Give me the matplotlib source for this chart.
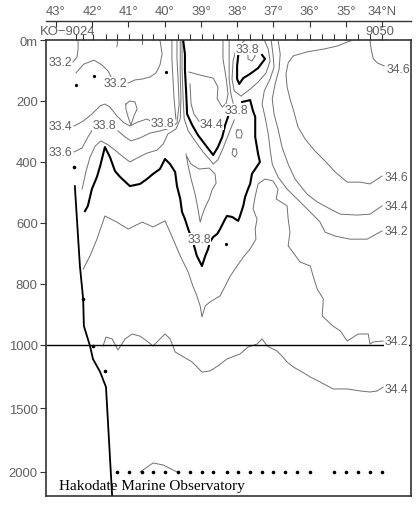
import numpy as np
import matplotlib.pyplot as plt

# latitude scale (upper axis)
lat_ticks = [43, 42, 41, 40, 39, 38, 37, 36, 35, 34]
lat_labels = ['43°', '42°', '41°', '40°', '39°', '38°', '37°', '36°', '35°', '34°N']

# station positions KO-9024 ... 9050
stations = [42.45, 42.25, 41.98, 41.62, 41.32, 40.98, 40.62, 40.32, 39.99, 39.63,
            39.30, 38.97, 38.66, 38.28, 37.97, 37.64, 37.31, 37.01, 36.67, 36.34,
            35.98, 35.65, 35.32, 34.99, 34.66, 34.33, 34.00]
deep_stations = stations[4:21] + stations[22:]   # stations with 2000 m data

depth_ticks = [0, 200, 400, 600, 800, 1000, 1500, 2000]
depth_labels = ['0m', '200', '400', '600', '800', '1000', '1500', '2000']

# bottom / deepest observation on the shelf slope
bottom_line = [(42.48, 479), (42.34, 741), (42.25, 849), (42.23, 938), (42.06, 1008),
               (41.98, 1110), (41.78, 1213), (41.62, 1331), (41.45, 2189)]
last_obs = [(42.50, 416), (42.25, 849), (41.98, 1008), (41.65, 1205)]
spots = [(42.45, 148), (41.95, 118), (39.96, 105), (38.30, 669)]

# salinity contours (lat, depth m)
s332_a = [(42.53, 72), (42.42, 56), (42.39, 30), (42.39, 0)]
s332_b1 = [(42.45, 108), (42.23, 79), (41.95, 66), (41.73, 82), (41.56, 102), (41.48, 121)]
s332_b2 = [(41.01, 141), (40.82, 131), (40.62, 128), (40.40, 121), (40.24, 108), (40.13, 82),
           (40.07, 46), (40.13, 0)]
s334_a = [(42.50, 282), (42.25, 266), (42.01, 243), (41.78, 216), (41.65, 210), (41.51, 220),
          (41.32, 249), (41.15, 269), (40.96, 282), (40.74, 269), (40.49, 259), (40.38, 266)]
s334_b = [(39.69, 259), (39.74, 193), (39.77, 128), (39.80, 62), (39.80, 0)]
s336_a = [(42.50, 367), (42.28, 354), (42.12, 318), (41.98, 292)]
s336_b = [(41.29, 298), (41.09, 318), (40.93, 331), (40.68, 321), (40.40, 305), (40.13, 298),
          (39.85, 289), (39.66, 272), (39.60, 210), (39.63, 128), (39.66, 62), (39.66, 0)]
s338_v = [(42.28, 489), (42.17, 430), (42.06, 384), (41.92, 348), (41.76, 331), (41.56, 344),
          (41.37, 361), (41.18, 380), (40.96, 400), (40.76, 387), (40.49, 371), (40.21, 361),
          (40.04, 341), (39.91, 308), (39.69, 292), (39.57, 259), (39.55, 193), (39.57, 111),
          (39.57, 46), (39.57, 0)]
teardrop = [(41.07, 210), (40.96, 200), (40.82, 203), (40.76, 226), (40.85, 249), (40.93, 279),
            (41.01, 252), (41.07, 226), (41.07, 210)]
front_p1 = [(39.52, 0), (39.52, 95), (39.49, 193), (39.46, 259), (39.35, 298), (39.16, 331),
            (38.94, 367), (38.75, 393), (38.66, 407), (38.53, 393), (38.41, 361), (38.30, 328),
            (38.19, 295), (38.08, 262)]
tongue = [(39.41, 374), (39.35, 413), (39.27, 456), (39.16, 505), (39.08, 554), (39.02, 597),
          (38.97, 577), (38.88, 548), (38.77, 521), (38.69, 492), (38.58, 469), (38.61, 439),
          (38.77, 420), (39.05, 423), (39.27, 407), (39.38, 384)]
inner_1 = [(39.30, 144), (39.27, 210), (39.19, 243), (39.05, 266)]
inner_2 = [(39.33, 105), (39.02, 115), (38.66, 125), (38.53, 154), (38.55, 193), (38.41, 220),
           (38.30, 207), (38.25, 177), (38.30, 128), (38.39, 62), (38.39, 0)]
inner_3 = [(38.22, 0), (38.22, 62), (38.22, 128), (38.17, 177), (38.11, 207)]
ring_38 = [(37.78, 0), (38.03, 30), (38.11, 69), (38.14, 128), (38.08, 167), (37.89, 184),
           (37.64, 161), (37.42, 138), (37.20, 108), (37.09, 69), (37.14, 30), (37.25, 0)]
eddy_a = [(38.00, 295), (37.89, 295), (37.86, 308), (37.89, 321), (38.00, 321), (38.03, 308),
          (38.00, 295)]
eddy_b = [(38.11, 357), (38.03, 357), (38.00, 371), (38.06, 384), (38.14, 374), (38.11, 357)]
eddy_c = [(37.70, 43), (37.59, 36), (37.50, 52), (37.59, 69), (37.70, 62), (37.70, 43)]
s342_up = [(37.06, 0), (37.01, 46), (36.98, 89), (37.09, 128), (37.25, 167), (37.31, 210),
           (37.23, 252), (37.14, 308), (37.09, 357), (37.03, 407), (36.87, 449), (36.62, 489),
           (36.26, 531), (35.98, 564), (35.71, 597), (35.57, 630), (35.29, 643), (34.88, 653),
           (34.41, 653), (34.00, 626)]
s344_up = [(36.87, 0), (36.81, 46), (36.84, 95), (36.95, 144), (37.03, 193), (36.98, 243),
           (36.87, 292), (36.76, 351), (36.59, 407), (36.40, 456), (36.07, 505), (35.79, 531),
           (35.43, 554), (35.15, 571), (34.69, 574), (34.33, 571), (34.00, 544)]
s346_main = [(34.80, 0), (34.96, 7), (35.24, 20), (35.62, 30), (36.07, 39), (36.45, 52),
             (36.59, 75), (36.65, 111), (36.62, 154), (36.54, 193), (36.43, 236), (36.32, 285),
             (36.12, 325), (35.85, 364), (35.57, 397), (35.29, 433), (34.96, 466), (34.60, 466),
             (34.33, 472), (34.00, 446)]
s346_top = [(34.33, 0), (34.30, 30), (34.24, 62), (34.13, 75), (33.94, 85)]
s342_deep = [(42.25, 751), (42.06, 708), (41.87, 653), (41.65, 577), (41.32, 597), (41.01, 620),
             (40.62, 597), (40.32, 613), (39.99, 593), (39.85, 630), (39.57, 708), (39.35, 761),
             (39.22, 807), (39.11, 839), (39.02, 872), (38.97, 908), (38.88, 872), (38.75, 859),
             (38.47, 839), (38.33, 807), (38.19, 774), (38.00, 741), (37.83, 712), (37.64, 685),
             (37.48, 653), (37.50, 620), (37.45, 587), (37.56, 554), (37.50, 512), (37.42, 472),
             (37.23, 456), (37.01, 462), (36.87, 489), (36.92, 521), (36.62, 544), (36.59, 587),
             (36.54, 630), (36.59, 675), (36.26, 728), (35.98, 741), (35.90, 774), (35.79, 816),
             (35.62, 849), (35.65, 905), (35.35, 938), (35.15, 954), (34.96, 987), (34.66, 964),
             (34.38, 964), (34.33, 997), (34.24, 990), (33.97, 987)]
s344_deep = [(41.70, 1008), (41.62, 974), (41.45, 980), (41.29, 1039), (41.09, 980), (40.90, 964),
             (40.68, 971), (40.49, 987), (40.32, 1008), (40.13, 980), (39.99, 964), (39.85, 980),
             (39.71, 1055), (39.52, 1087), (39.24, 1134), (38.97, 1213), (38.75, 1205),
             (38.53, 1165), (38.28, 1110), (37.92, 1071), (37.70, 1016), (37.45, 997),
             (37.31, 980), (37.17, 1008), (36.90, 1047), (36.76, 1087), (36.62, 1134),
             (36.45, 1173), (36.20, 1213), (35.98, 1252), (35.71, 1291), (35.35, 1346),
             (34.96, 1346), (34.60, 1362), (34.33, 1370), (34.13, 1362), (33.97, 1331)]
s346_bump = [(40.68, 2000), (40.32, 1929), (40.04, 1945), (39.66, 2000)]
surf_bits = [[(41.32, 0), (41.30, 10), (41.32, 22)], [(40.62, 0), (40.62, 14)]]

# thick isohaline
thick_main = [(42.20, 561), (42.12, 544), (42.01, 489), (41.87, 449), (41.78, 413), (41.65, 351),
              (41.51, 384), (41.37, 430), (41.23, 449), (40.96, 479), (40.68, 472), (40.49, 456),
              (40.32, 439), (40.13, 423), (39.99, 390), (39.85, 407), (39.71, 433), (39.66, 479),
              (39.57, 521), (39.52, 564), (39.44, 587), (39.35, 620), (39.22, 662), (39.11, 708),
              (38.97, 741), (38.88, 708), (38.80, 685), (38.75, 662), (38.66, 646), (38.55, 636),
              (38.47, 620), (38.33, 587), (38.28, 577), (38.14, 580), (37.97, 593), (37.92, 577),
              (37.83, 544), (37.78, 515), (37.70, 489), (37.64, 472), (37.59, 439), (37.50, 423),
              (37.37, 400), (37.42, 374), (37.50, 318), (37.50, 252), (37.56, 233), (37.64, 197),
              (37.86, 203)]
thick_tsugaru = [(39.49, 0), (39.44, 46), (39.44, 98), (39.41, 164), (39.38, 243), (39.24, 279),
                 (39.08, 312), (38.83, 351), (38.66, 377), (38.53, 351), (38.41, 318), (38.33, 279),
                 (38.25, 252)]
thick_38 = [(37.97, 52), (38.00, 85), (38.00, 128), (37.94, 144), (37.83, 125), (37.64, 111),
            (37.42, 92), (37.23, 62), (37.31, 49)]

# contour labels
label_text = ['33.2', '33.2', '33.4', '33.6', '33.8', '33.8', '33.8', '33.8', '34.4', '33.8',
              '34.6', '34.6', '34.4', '34.2', '34.2', '34.4']
label_lat = [42.89, 41.36, 42.89, 42.89, 41.67, 40.06, 37.72, 38.01, 38.70, 39.04,
             33.56, 33.60, 33.60, 33.60, 33.60, 33.60]
label_depth = [72, 141, 282, 367, 279, 272, 30, 230, 275, 653,
               95, 449, 544, 626, 987, 1346]

thin = [s332_a, s332_b1, s332_b2, s334_a, s334_b, s336_a, s336_b, s338_v, teardrop, front_p1,
        tongue, inner_1, inner_2, inner_3, ring_38, eddy_a, eddy_b, eddy_c, s342_up, s344_up,
        s346_main, s346_top, s342_deep, s344_deep, s346_bump] + surf_bits
thick = [thick_main, thick_tsugaru, thick_38]

R = 0.4164  # compression below 1000 m


def fwd(d):
    d = np.asarray(d, dtype=float)
    return np.where(d <= 1000, d, 1000 + (d - 1000) * R)


def inv(t):
    t = np.asarray(t, dtype=float)
    return np.where(t <= 1000, t, 1000 + (t - 1000) / R)


plt.rcParams['font.family'] = ['Liberation Sans', 'DejaVu Sans']
W, H = 418, 506
fig = plt.figure(figsize=(W / 100, H / 100), dpi=100)
ax = fig.add_axes([46 / W, 9 / H, 365 / W, 456 / H])
ax.set_yscale('function', functions=(fwd, inv))
ax.set_xlim(43.276, 33.199)
ax.set_ylim(2189, 0)

for c in thin:
    la, de = zip(*c)
    ax.plot(la, de, color='#707070', lw=0.7)
for c in thick:
    la, de = zip(*c)
    ax.plot(la, de, color='black', lw=1.5)

la, de = zip(*bottom_line)
ax.plot(la, de, color='black', lw=1.3)
la, de = zip(*last_obs)
ax.plot(la, de, 'o', color='black', ms=1.6)
la, de = zip(*spots)
ax.plot(la, de, 'o', color='black', ms=1.3)
ax.plot(deep_stations, [2000] * len(deep_stations), 'o', color='black', ms=1.6)
ax.axhline(1000, color='black', lw=1)

for t, x, y in zip(label_text, label_lat, label_depth):
    ax.text(x, y, t, fontsize=8.8, color='#606060', ha='center', va='center', zorder=5,
            bbox=dict(facecolor='white', edgecolor='none', pad=0.2))

ax.text(42.92, 2108, 'Hakodate Marine Observatory', fontsize=11, family='Liberation Serif',
        ha='left', va='center', color='black')

# station ticks on top of the frame, depth ticks on the left
ax.set_xticks(stations)
ax.tick_params(axis='x', which='both', bottom=False, top=True, labelbottom=False,
               labeltop=False, direction='out', length=4, width=0.8, color='#333333')
ax.set_yticks(depth_ticks)
ax.set_yticklabels(depth_labels)
ax.yaxis.set_minor_locator(plt.NullLocator())
ax.tick_params(axis='y', which='both', left=True, right=False, direction='out', length=4,
               width=0.8, pad=2, labelsize=9.4, labelcolor='#606060', color='#333333')
for s in ax.spines.values():
    s.set_color('#333333')
    s.set_linewidth(1.2)

ax.text(43.44, -30, 'KO\u22129024', fontsize=9.4, color='#606060', ha='left', va='center',
        clip_on=False)
ax.text(34.05, -30, '9050', fontsize=9.4, color='#606060', ha='center', va='center',
        clip_on=False)

# latitude scale above
top = fig.add_axes([46 / W, (H - 22) / H, 365 / W, 0.0001])
top.set_xlim(43.276, 33.199)
top.set_yticks([])
for k in ['left', 'right', 'bottom']:
    top.spines[k].set_visible(False)
top.spines['top'].set_color('#333333')
top.spines['top'].set_linewidth(1.0)
top.set_xticks(lat_ticks)
top.set_xticklabels(lat_labels)
top.tick_params(axis='x', bottom=False, top=True, labelbottom=False, labeltop=True,
                direction='in', length=4, width=0.8, pad=3, labelsize=9.4,
                labelcolor='#606060', color='#333333')
top.patch.set_visible(False)

fig.savefig('out.png', dpi=100)
